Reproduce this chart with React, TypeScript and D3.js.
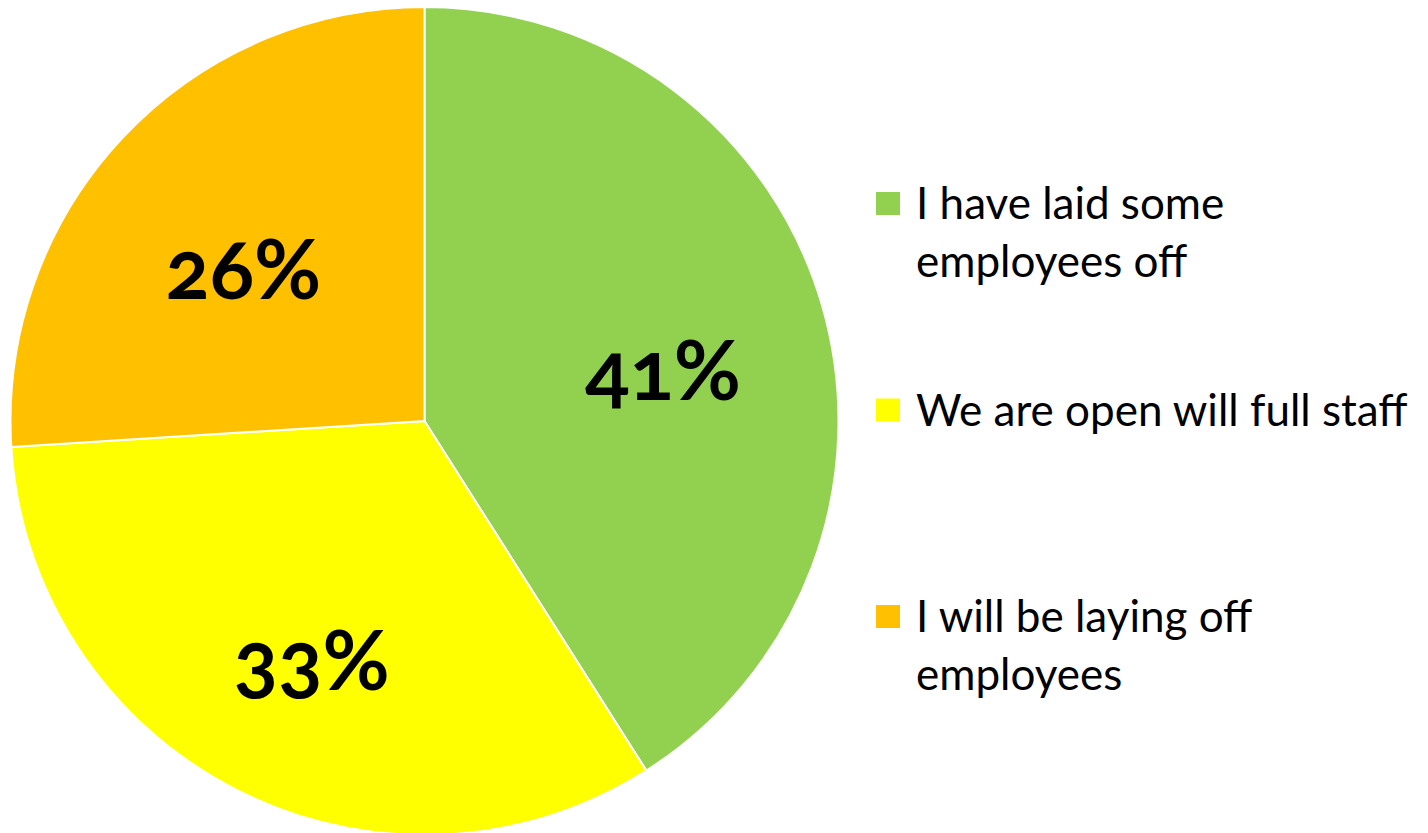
import React, { useMemo } from "react";
import * as d3 from "d3";

const categories = [
  "I have laid some employees off",
  "We are open will full staff",
  "I will be laying off employees",
];
const values = [41, 33, 26];
const colors = ["#92D050", "#FFFF00", "#FFC000"];

const W = 1428;
const H = 833;
const CX = 424.5;
const CY = 421;
const R = 414;
const FONT = "Lato, 'Noto Sans', sans-serif";
const LEGEND_SIZE = 44;
const LABEL_SIZE = 82;

function wrap(text: string, maxWidth: number, font: string): string[] {
  const canvas = document.createElement("canvas");
  const ctx = canvas.getContext("2d")!;
  ctx.font = font;
  const words = text.split(" ");
  const lines: string[] = [];
  let cur = "";
  for (const w of words) {
    const t = cur ? cur + " " + w : w;
    if (ctx.measureText(t).width > maxWidth && cur) {
      lines.push(cur);
      cur = w;
    } else cur = t;
  }
  if (cur) lines.push(cur);
  return lines;
}

export default function App() {
  const pie = d3.pie<number>().sort(null).value((d) => d);
  const arcs = pie(values);
  const arc = d3.arc<d3.PieArcDatum<number>>().innerRadius(0).outerRadius(R);
  const labelArc = d3
    .arc<d3.PieArcDatum<number>>()
    .innerRadius(R * 0.6)
    .outerRadius(R * 0.6);

  const legendLines = useMemo(
    () => categories.map((c) => wrap(c, 508, `${LEGEND_SIZE}px Lato`)),
    []
  );

  return (
    <div style={{ position: "absolute", left: 0, top: 0 }}>
      <svg width={W} height={H} style={{ display: "block" }}>
        <rect width={W} height={H} fill="#fff" />
        <g transform={`translate(${CX},${CY})`}>
          {arcs.map((a, i) => (
            <path
              key={i}
              d={arc(a) || ""}
              fill={colors[i]}
              stroke="#fff"
              strokeWidth={2}
            />
          ))}
          {arcs.map((a, i) => {
            const [x, y] = labelArc.centroid(a);
            return (
              <text
                key={"l" + i}
                x={x}
                y={y + 48}
                textAnchor="middle"
                fontFamily={FONT}
                fontWeight="bold"
                fontSize={LABEL_SIZE}
                fill="#000"
                style={{ fontFeatureSettings: "'onum' 1" }}
              >
                {values[i]}%
              </text>
            );
          })}
        </g>
        <g>
          {categories.map((c, i) => {
            const base = 219 + i * 206.5;
            return (
              <g key={c}>
                <rect x={876} y={base - 27} width={24} height={23} fill={colors[i]} />
                {legendLines[i].map((ln, j) => (
                  <text
                    key={j}
                    x={916}
                    y={base + j * 57.5}
                    fontFamily={FONT}
                    fontSize={LEGEND_SIZE}
                    fill="#000"
                  >
                    {ln}
                  </text>
                ))}
              </g>
            );
          })}
        </g>
      </svg>
    </div>
  );
}
